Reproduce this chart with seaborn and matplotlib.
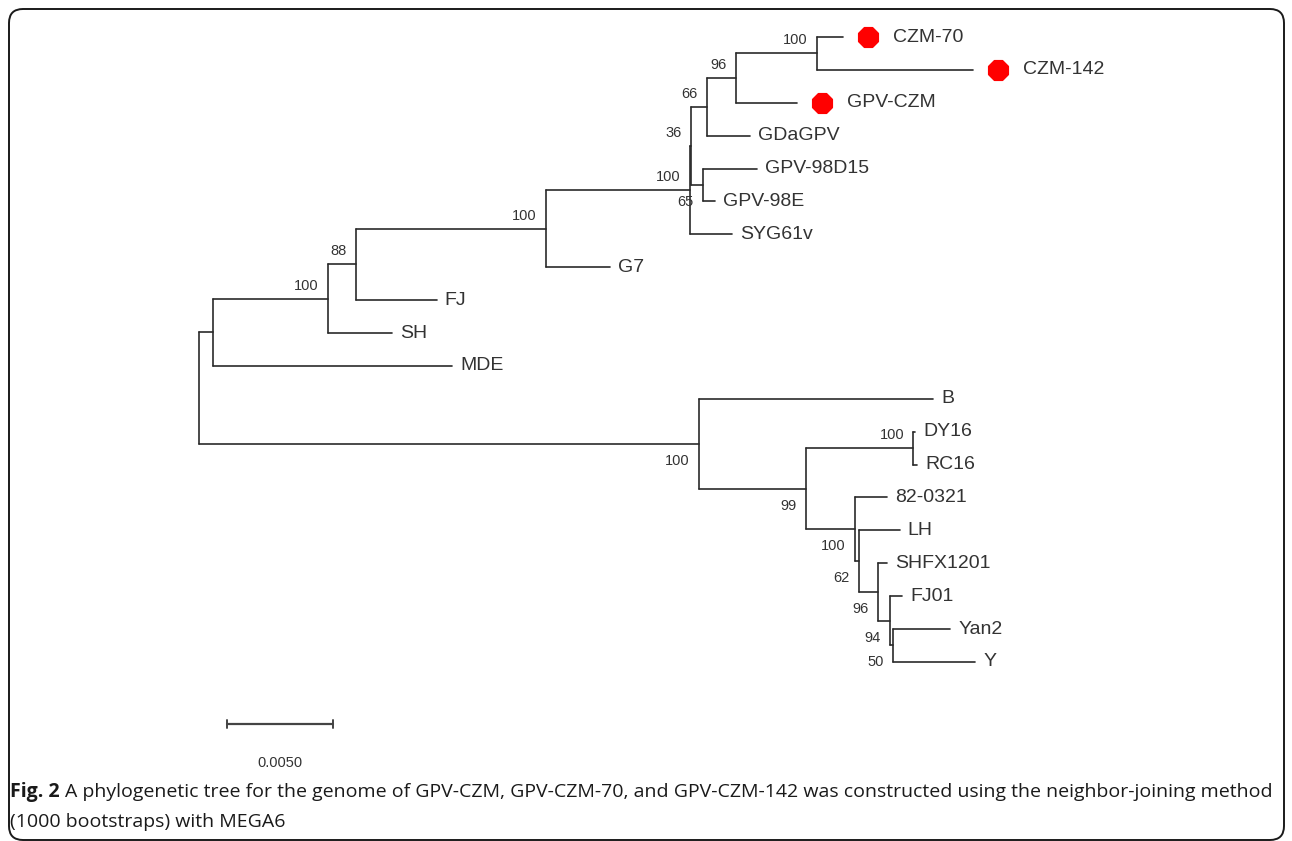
import matplotlib
matplotlib.use("Agg")
import matplotlib.pyplot as plt
import seaborn as sns
import pandas as pd
from matplotlib.patches import FancyBboxPatch

# tip order top -> bottom
tips = ["CZM-70", "CZM-142", "GPV-CZM", "GDaGPV", "GPV-98D15", "GPV-98E",
        "SYG61v", "G7", "FJ", "SH", "MDE", "B", "DY16", "RC16", "82-0321",
        "LH", "SHFX1201", "FJ01", "Yan2", "Y"]
marked = ["CZM-70", "CZM-142", "GPV-CZM"]

# edges of the NJ tree (child, parent, branch length)
edge_child = ["n1", "n2", "n3", "MDE", "n4", "SH", "n5", "FJ", "n6", "G7",
              "n7", "SYG61v", "n8", "n11", "n9", "GDaGPV", "n10", "GPV-CZM",
              "CZM-70", "CZM-142", "GPV-98D15", "GPV-98E",
              "B", "n12", "n13", "n14", "DY16", "RC16", "82-0321", "n15",
              "LH", "n16", "SHFX1201", "n17", "FJ01", "n18", "Yan2", "Y"]
edge_parent = ["root", "root", "n1", "n1", "n3", "n3", "n4", "n4", "n5", "n5",
               "n6", "n6", "n7", "n7", "n8", "n8", "n9", "n9",
               "n10", "n10", "n11", "n11",
               "n2", "n2", "n12", "n12", "n13", "n13", "n14", "n14",
               "n15", "n15", "n16", "n16", "n17", "n17", "n18", "n18"]
edge_length = [0.00066, 0.02358, 0.00542, 0.01127, 0.00132, 0.00302, 0.00896,
               0.00382, 0.00679, 0.00302, 0.00005, 0.00198, 0.00075, 0.00057,
               0.00137, 0.00203, 0.00382, 0.00288, 0.00123, 0.00736, 0.00255,
               0.00057, 0.01104, 0.00505, 0.00505, 0.00231, 0.00009, 0.00019,
               0.00151, 0.00019, 0.00193, 0.00090, 0.00042, 0.00057, 0.00057,
               0.00014, 0.00269, 0.00387]

# bootstrap support (1000 replicates)
boot_node = ["n3", "n4", "n5", "n6", "n7", "n8", "n9", "n10", "n11",
             "n2", "n12", "n13", "n14", "n15", "n16", "n17", "n18"]
boot_value = [100, 88, 100, 100, 36, 66, 96, 100, 65,
              100, 99, 100, 100, 62, 96, 94, 50]
boot_side = ["up", "up", "up", "up", "up", "up", "up", "up", "down",
             "down", "down", "up", "down", "down", "down", "down", "down"]

scale_len = 0.005

children = {}
blen = {}
for c, p, l in zip(edge_child, edge_parent, edge_length):
    children.setdefault(p, []).append(c)
    blen[c] = l

depth, ypos = {}, {}


def walk(node, d):
    depth[node] = d
    if node in children:
        for ch in children[node]:
            walk(ch, d + blen[ch])
        ys = [ypos[ch] for ch in children[node]]
        ypos[node] = (min(ys) + max(ys)) / 2
    else:
        ypos[node] = tips.index(node)


walk("root", 0.0)

rows = []
seg = 0
for c, p in zip(edge_child, edge_parent):
    rows += [(seg, depth[p], ypos[c]), (seg, depth[c], ypos[c])]
    seg += 1
for n, chs in children.items():
    ys = [ypos[ch] for ch in chs]
    rows += [(seg, depth[n], min(ys)), (seg, depth[n], max(ys))]
    seg += 1
seg_df = pd.DataFrame(rows, columns=["seg", "x", "y"])

sns.set_theme(style="white")
plt.rcParams["font.family"] = ["Liberation Sans", "DejaVu Sans"]

W, H = 1292, 841
fig = plt.figure(figsize=(W / 100, H / 100), dpi=100)
fig.patch.set_facecolor("white")

# frame + caption layer in pixel units
bg = fig.add_axes([0, 0, 1, 1])
bg.set_xlim(0, W)
bg.set_ylim(H, 0)
bg.axis("off")
bg.add_patch(FancyBboxPatch((9, 9), 1275, 831, boxstyle="round,pad=0,rounding_size=14",
                            fill=False, ec="#1a1a1a", lw=1.4))

ax = fig.add_axes([0, 0, 1, 1])
ax.patch.set_alpha(0)
k = scale_len / 106.0          # data units per pixel
x0, y0, dy = 199, 37, 32.89     # root pixel x, first tip y, tip spacing
ax.set_xlim(-x0 * k, (W - x0) * k)
ax.set_ylim((H - y0) / dy, -y0 / dy)
ax.axis("off")

line_col = "#2a2a2a"
sns.lineplot(data=seg_df, x="x", y="y", units="seg", estimator=None, sort=False,
             color=line_col, lw=1.2, ax=ax, legend=False)

for t in tips:
    if t in marked:
        ax.annotate(t, (depth[t], ypos[t]), xytext=(50, 0), textcoords="offset pixels",
                    ha="left", va="center", fontsize=14, color="#333333")
    else:
        ax.annotate(t, (depth[t], ypos[t]), xytext=(8, 0), textcoords="offset pixels",
                    ha="left", va="center", fontsize=14, color="#333333")

mk = pd.DataFrame({"x": [depth[t] + 25 * k for t in marked],
                   "y": [ypos[t] for t in marked]})
sns.scatterplot(data=mk, x="x", y="y", marker="8", s=230, color="#ff0000",
                edgecolor="#ff0000", ax=ax, legend=False, zorder=3)

for n, v, side in zip(boot_node, boot_value, boot_side):
    off = 13 if side == "up" else -17
    ax.annotate(str(v), (depth[n], ypos[n]), xytext=(-9, off), textcoords="offset pixels",
                ha="right", va="center", fontsize=10.5, color="#333333")

# scale bar
sb_x, sb_y = 28 * k, (724 - y0) / dy
ax.plot([sb_x, sb_x + scale_len], [sb_y, sb_y], color="#444444", lw=1.6)
for xe in (sb_x, sb_x + scale_len):
    ax.plot([xe, xe], [sb_y - 0.13, sb_y + 0.13], color="#444444", lw=1.4)
ax.text(sb_x + scale_len / 2, (763 - y0) / dy, f"{scale_len:.4f}", ha="center",
        va="center", fontsize=10.5, color="#333333")

cap_font = ["Open Sans", "DejaVu Sans"]
fig_lbl = bg.text(10, 792, "Fig. 2", fontsize=14, weight="bold", va="center",
                  ha="left", family=cap_font, color="#1a1a1a")
bg.annotate("A phylogenetic tree for the genome of GPV-CZM, GPV-CZM-70, and GPV-CZM-142 "
            "was constructed using the neighbor-joining method",
            xy=(1, 0.5), xycoords=fig_lbl, xytext=(5, 0), textcoords="offset pixels",
            va="center", ha="left", fontsize=14, family=cap_font, color="#1a1a1a")
bg.text(10, 822, "(1000 bootstraps) with MEGA6", fontsize=14, va="center", ha="left",
        family=cap_font, color="#1a1a1a")

fig.savefig("out.png", dpi=100)
